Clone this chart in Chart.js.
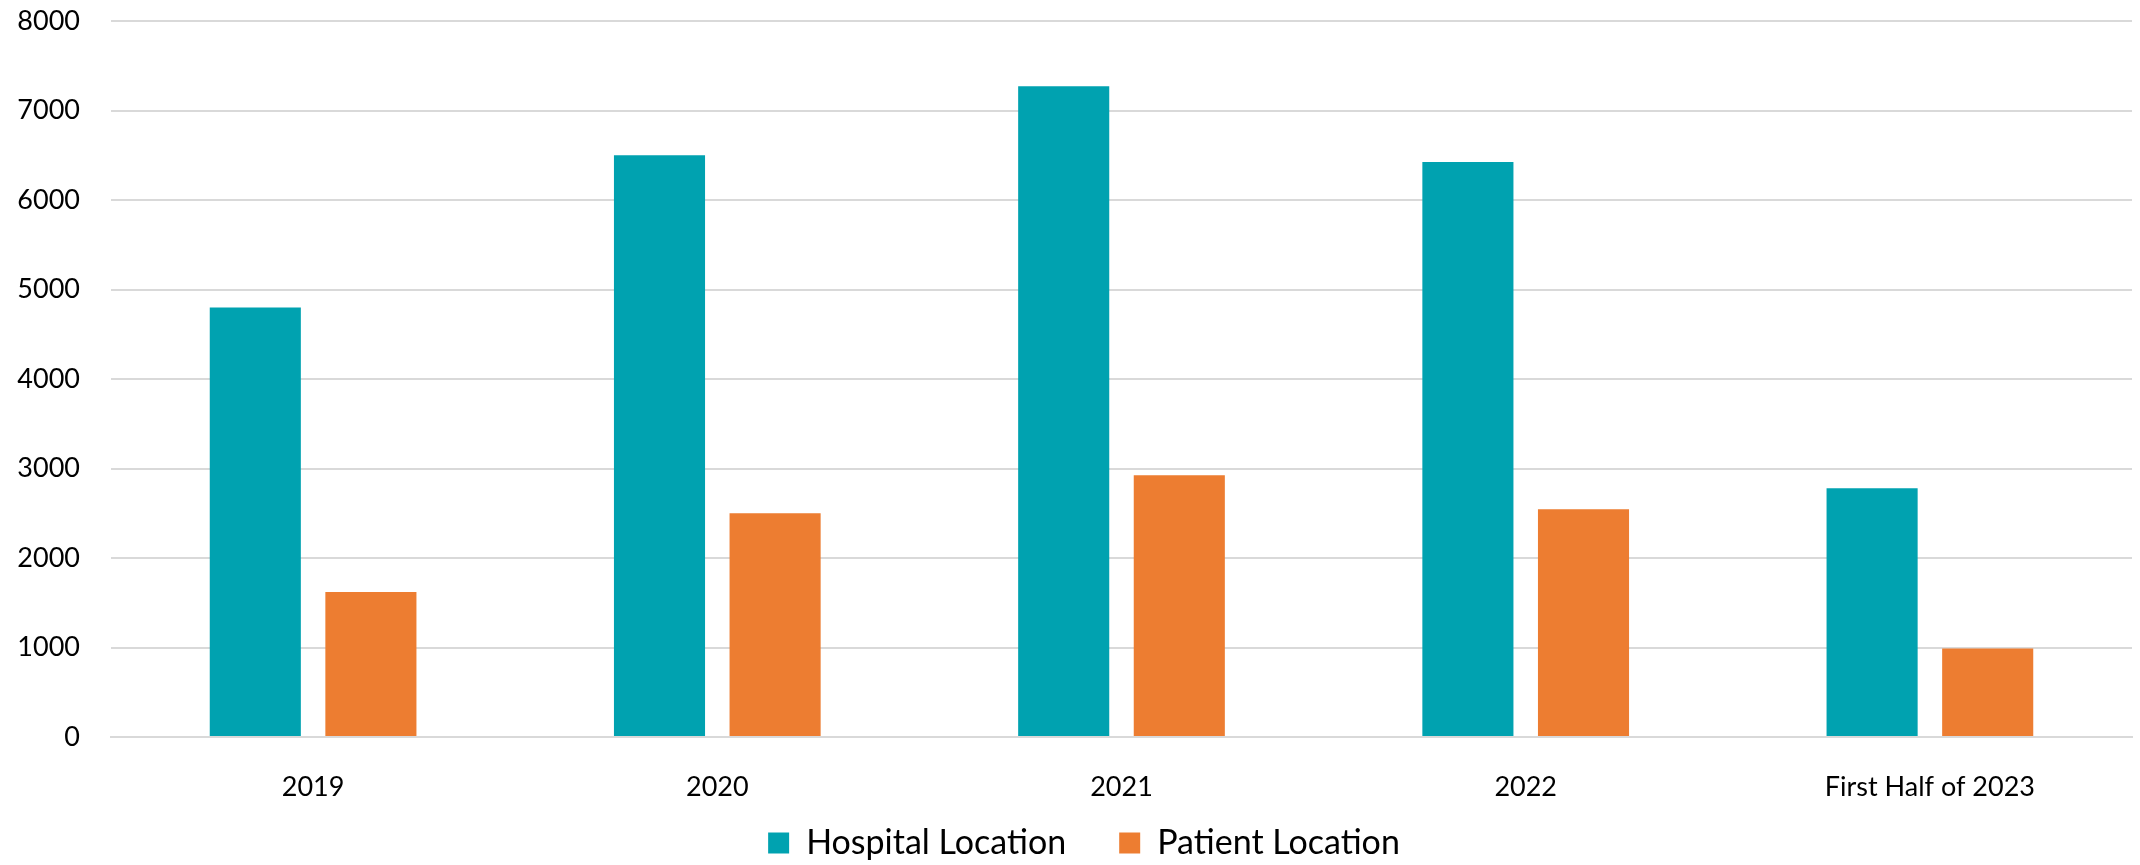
<!DOCTYPE html>
<html>
<head>
<meta charset="utf-8">
<script src="https://cdn.jsdelivr.net/npm/chart.js@4"></script>
<style>
  html, body { margin: 0; padding: 0; background: #fff; }
  #wrap { width: 2140px; height: 865px; position: relative; }
</style>
</head>
<body>
<div id="wrap"><canvas id="locationChart"></canvas></div>
<script>
const categories = ["2019", "2020", "2021", "2022", "First Half of 2023"];
const hospitalLocation = [4800, 6500, 7270, 6425, 2780];
const patientLocation = [1620, 2500, 2925, 2545, 990];
const yTicks = [0, 1000, 2000, 3000, 4000, 5000, 6000, 7000, 8000];

const teal = "#00A2B0";
const orange = "#ED7D31";

// the wide gap between legend items comes from labels.padding, which also
// pads vertically; keep the legend box short and nudge it after layout
const legendFit = {
    id: "legendFit",
    beforeInit(chart) {
        const origFit = chart.legend.fit;
        chart.legend.fit = function () {
            origFit.bind(chart.legend)();
            this.height = 65;
        };
    },
    afterLayout(chart) {
        const lg = chart.legend;
        lg.top -= 27;
        lg.left += 18;
        lg.right += 18;
    },
};

const ctx = document.getElementById("locationChart").getContext("2d");
const chart = new Chart(ctx, {
    type: "bar",
    data: {
        labels: categories,
        datasets: [
            {
                label: "Hospital Location",
                data: hospitalLocation,
                backgroundColor: teal,
                categoryPercentage: 0.572,
                barPercentage: 0.788,
            },
            {
                label: "Patient Location",
                data: patientLocation,
                backgroundColor: orange,
                categoryPercentage: 0.572,
                barPercentage: 0.788,
            },
        ],
    },
    options: {
        responsive: true,
        maintainAspectRatio: false,
        animation: false,
        layout: { padding: { top: 21, right: 8, left: 0, bottom: 0 } },
        plugins: {
            tooltip: { enabled: false },
            legend: {
                position: "bottom",
                labels: {
                    boxWidth: 21,
                    boxHeight: 21,
                    padding: 53,
                    color: "#000",
                    font: { family: "Lato", size: 34 },
                },
            },
        },
        scales: {
            x: {
                grid: { display: false },
                border: { display: true, color: "#d9d9d9", width: 2 },
                ticks: {
                    color: "#000",
                    padding: 26,
                    font: { family: "Lato", size: 27 },
                },
                afterFit(scale) {
                    scale.height = 63;
                },
            },
            y: {
                min: 0,
                max: 8000,
                afterBuildTicks(scale) {
                    scale.ticks = yTicks.map((v) => ({ value: v }));
                },
                grid: { color: "#d9d9d9", lineWidth: 2, drawTicks: false },
                border: { display: false },
                ticks: {
                    color: "#000",
                    padding: 31,
                    font: { family: "Lato", size: 27 },
                    callback: (v) => String(v),
                },
                afterFit(scale) {
                    scale.width = 111;
                    scale.paddingTop = 0;
                    scale.paddingBottom = 0;
                },
            },
        },
    },
    plugins: [legendFit],
});
</script>
</body>
</html>
